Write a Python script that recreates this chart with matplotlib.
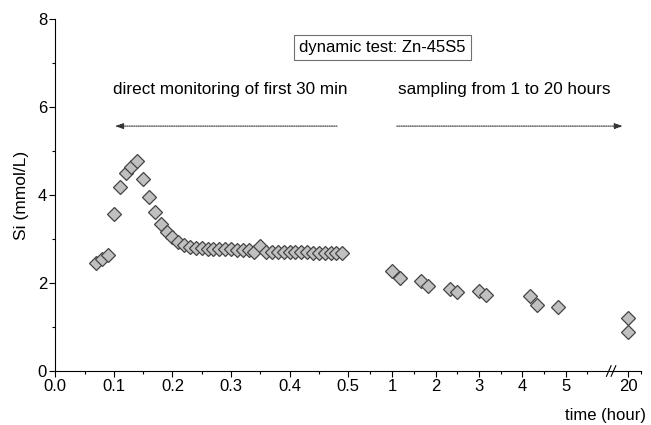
import numpy as np
import matplotlib
matplotlib.use("Agg")
import matplotlib.pyplot as plt

plt.rcParams['font.family'] = ['Liberation Sans', 'DejaVu Sans']

# direct monitoring, first 30 min (time in hours)
t_direct = [0.07, 0.08, 0.09, 0.10, 0.11, 0.12, 0.13, 0.14, 0.15, 0.16,
            0.17, 0.18, 0.19, 0.20, 0.21, 0.22, 0.23, 0.24, 0.25, 0.26,
            0.27, 0.28, 0.29, 0.30, 0.31, 0.32, 0.33, 0.34, 0.35, 0.36,
            0.37, 0.38, 0.39, 0.40, 0.41, 0.42, 0.43, 0.44, 0.45, 0.46,
            0.47, 0.48, 0.49]
si_direct = [2.45, 2.54, 2.64, 3.56, 4.19, 4.51, 4.64, 4.77, 4.36, 3.95,
             3.61, 3.34, 3.17, 3.04, 2.94, 2.86, 2.83, 2.80, 2.79, 2.78,
             2.78, 2.77, 2.77, 2.77, 2.76, 2.76, 2.75, 2.71, 2.84, 2.70,
             2.71, 2.71, 2.70, 2.70, 2.70, 2.70, 2.70, 2.69, 2.69, 2.69,
             2.69, 2.68, 2.68]

# sampling from 1 to 20 hours
t_sampled = [1.0, 1.17, 1.67, 1.83, 2.33, 2.5, 3.0, 3.17, 4.17, 4.33, 4.83, 20.0, 20.0]
si_sampled = [2.27, 2.11, 2.05, 1.93, 1.87, 1.79, 1.81, 1.73, 1.71, 1.50, 1.45, 1.20, 0.89]

tick_pos = [0, 0.1, 0.2, 0.3, 0.4, 0.5, 1, 2, 3, 4, 5, 20]
tick_lbl = ['0.0', '0.1', '0.2', '0.3', '0.4', '0.5', '1', '2', '3', '4', '5', '20']
minor_pos = [0.05, 0.15, 0.25, 0.35, 0.45, 0.75, 1.5, 2.5, 3.5, 4.5, 5.5, 20.3]

# piecewise axis: 0-0.5 h stretched, 1-6 h compressed, break up to 20 h
knot_t = [-10, 0, 0.5, 1, 6, 19.6, 20.3, 30]
knot_p = [-5860, 0, 293, 337, 554, 555.6, 586, 1007]

def fwd(t):
    return np.interp(t, knot_t, knot_p)

def inv(p):
    return np.interp(p, knot_p, knot_t)

fig = plt.figure(figsize=(6.51, 4.25), dpi=100)
ax = fig.add_axes([0.085, 0.127, 0.8996, 0.828])
ax.set_xscale('function', functions=(fwd, inv))

mk = dict(marker='D', ms=6.8, mfc='#c0c0c0', mec='#444444', mew=0.9, ls='none')
ax.plot(t_direct, si_direct, **mk)
ax.plot(t_sampled, si_sampled, **mk, clip_on=False)

ax.set_xlim(0, 20.3)
ax.set_ylim(0, 8)
ax.set_xticks(tick_pos)
ax.set_xticklabels(tick_lbl)
ax.set_xticks(minor_pos, minor=True)
ax.set_yticks([0, 2, 4, 6, 8])
ax.set_yticks([1, 3, 5, 7], minor=True)
ax.tick_params(which='major', length=4, width=0.8, labelsize=12, pad=2)
ax.tick_params(which='minor', length=2.5, width=0.8)
for s in ['top', 'right']:
    ax.spines[s].set_visible(False)

ax.set_ylabel('Si (mmol/L)', fontsize=12.5, labelpad=6)
ax.text(1.008, -0.125, 'time (hour)', transform=ax.transAxes, ha='right', va='center', fontsize=12)

# axis break marks
for xb in [0.945, 0.953]:
    ax.plot([xb - 0.004, xb + 0.004], [-0.015, 0.015], transform=ax.transAxes,
            color='black', lw=0.8, clip_on=False)

ax.text(0.559, 0.92, 'dynamic test: Zn-45S5', transform=ax.transAxes, ha='center', va='center',
        fontsize=12, bbox=dict(boxstyle='square,pad=0.3', fc='white', ec='#707070', lw=0.8))
ax.text(0.0987, 0.80, 'direct monitoring of first 30 min', transform=ax.transAxes,
        ha='left', va='center', fontsize=12.3)
ax.text(0.585, 0.80, 'sampling from 1 to 20 hours', transform=ax.transAxes,
        ha='left', va='center', fontsize=12.3)

arrow = dict(arrowstyle='-|>,head_length=0.5,head_width=0.18', ls=(0, (1, 1)), color='#333333',
             lw=0.8, shrinkA=0, shrinkB=0)
ax.annotate('', xy=(0.102, 0.696), xytext=(0.481, 0.696), xycoords='axes fraction', arrowprops=arrow)
ax.annotate('', xy=(0.969, 0.696), xytext=(0.583, 0.696), xycoords='axes fraction', arrowprops=arrow)

fig.savefig('out.png', dpi=100)
